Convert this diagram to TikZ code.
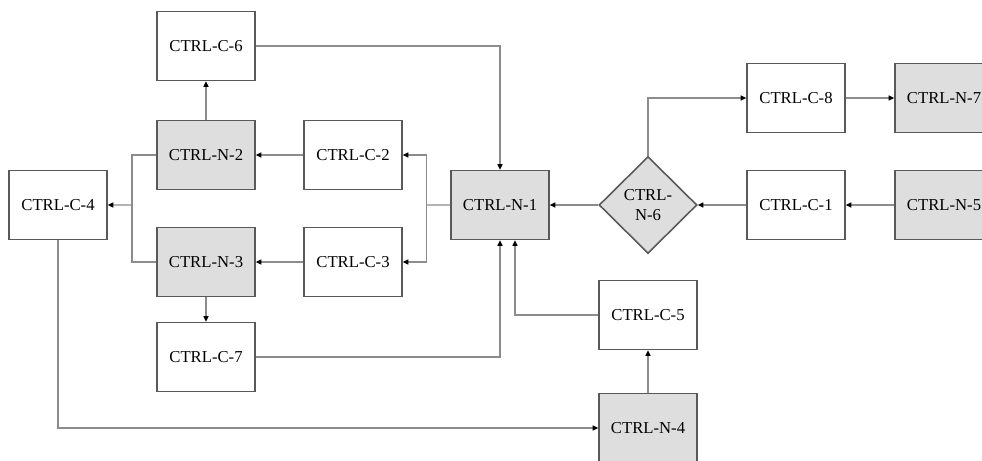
\documentclass[tikz,border=0pt]{standalone}
\usepackage{fontspec}
\setmainfont{Liberation Serif}
\usetikzlibrary{arrows.meta,calc,shapes.geometric}

\begin{document}
\begin{tikzpicture}[font=\fontsize{9.5}{11}\selectfont,
  box/.style={draw=black!65, line width=0.9pt, fill=white, minimum width=1.96cm, minimum height=1.38cm, inner sep=0pt},
  gbox/.style={box, fill=black!13},
  link/.style={draw=black!45, line width=0.6pt},
  tip/.style={link, -{Triangle[length=1.1mm,width=1mm,black]}}]
\useasboundingbox (0,0) rectangle (19.64,-9.22);
% left part
\node[box]  (c6) at (4.12,-0.92) {CTRL-C-6};
\node[gbox] (n2) at (4.12,-3.10) {CTRL-N-2};
\node[box]  (c2) at (7.06,-3.10) {CTRL-C-2};
\node[box]  (c4) at (1.16,-4.10) {CTRL-C-4};
\node[gbox] (n3) at (4.12,-5.24) {CTRL-N-3};
\node[box]  (c3) at (7.06,-5.24) {CTRL-C-3};
\node[box]  (c7) at (4.12,-7.14) {CTRL-C-7};
% middle
\node[gbox] (n1) at (10.00,-4.10) {CTRL-N-1};
\node[draw=black!65, line width=0.9pt, fill=black!13, diamond, aspect=1, inner sep=0pt,
  minimum width=1.96cm, minimum height=1.94cm, align=center] (n6) at (12.96,-4.10) {CTRL-\\N-6};
\node[box]  (c5) at (12.96,-6.30) {CTRL-C-5};
\node[gbox] (n4) at (12.96,-8.56) {CTRL-N-4};
% right part
\node[box]  (c8) at (15.92,-1.96) {CTRL-C-8};
\node[gbox] (n7) at (18.88,-1.96) {CTRL-N-7};
\node[box]  (c1) at (15.92,-4.10) {CTRL-C-1};
\node[gbox] (n5) at (18.88,-4.10) {CTRL-N-5};
% split points
\coordinate (s1) at ($(n1.west)!0.5!(c2.east |- n1.west)$);
\coordinate (s2) at ($(c4.east)!0.5!(n2.west |- c4.east)$);
% connectors
\draw[tip] (n2) -- (c6);
\draw[tip] (c2) -- (n2);
\draw[tip] (c3) -- (n3);
\draw[tip] (n3) -- (c7);
\draw[link] (n2.west) -| (s2);
\draw[link] (n3.west) -| (s2);
\draw[tip] (s2) -- (c4.east);
\draw[link] (n1.west) -- (s1);
\draw[tip] (s1) |- (c2.east);
\draw[tip] (s1) |- (c3.east);
\draw[tip] (c6.east) -| (n1.north);
\draw[tip] (c7.east) -| (n1.south);
\draw[tip] (c5.west) -| ([xshift=0.3cm]n1.south);
\draw[tip] (c4.south) |- (n4.west);
\draw[tip] (n4) -- (c5);
\draw[tip] (n6.west) -- (n1.east);
\draw[tip] (c1) -- (n6.east);
\draw[tip] (n5) -- (c1);
\draw[tip] (n6.north) |- (c8.west);
\draw[tip] (c8) -- (n7);
\end{tikzpicture}
\end{document}
